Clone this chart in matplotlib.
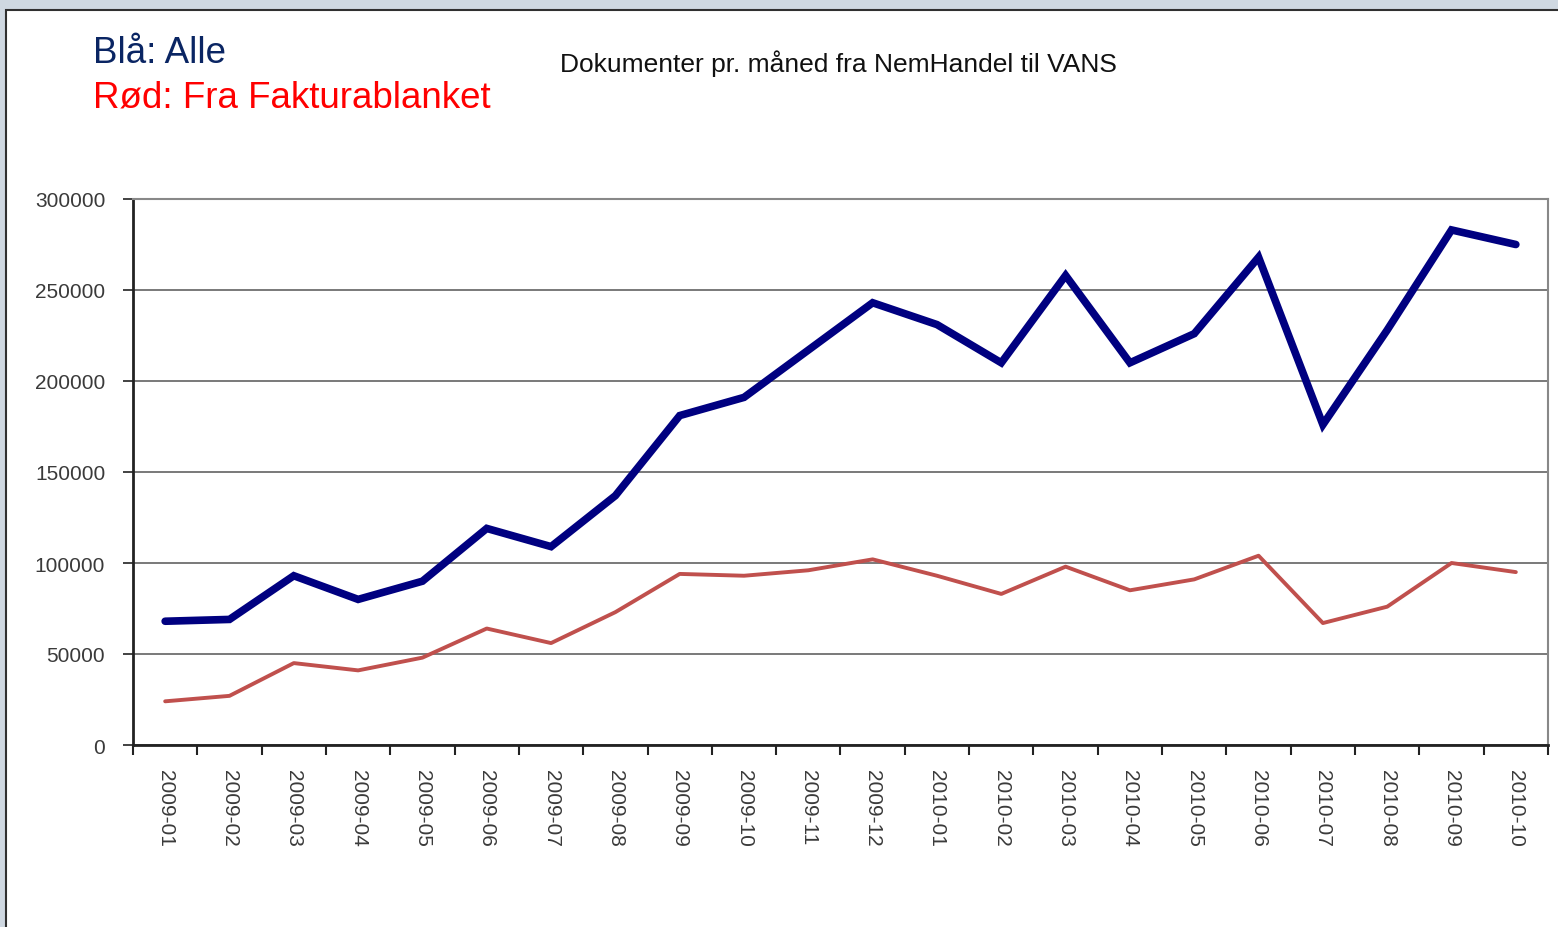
import matplotlib
matplotlib.use("Agg")
import matplotlib.pyplot as plt
from matplotlib.patches import Rectangle
from matplotlib.ticker import FixedLocator

months = ["2009-01", "2009-02", "2009-03", "2009-04", "2009-05", "2009-06",
          "2009-07", "2009-08", "2009-09", "2009-10", "2009-11", "2009-12",
          "2010-01", "2010-02", "2010-03", "2010-04", "2010-05", "2010-06",
          "2010-07", "2010-08", "2010-09", "2010-10"]
alle = [68000, 69000, 93000, 80000, 90000, 119000, 109000, 137000, 181000,
        191000, 217000, 243000, 231000, 210000, 258000, 210000, 226000,
        268000, 176000, 228000, 283000, 275000]
faktura = [24000, 27000, 45000, 41000, 48000, 64000, 56000, 73000, 94000,
           93000, 96000, 102000, 93000, 83000, 98000, 85000, 91000, 104000,
           67000, 76000, 100000, 95000]
yticks = [0, 50000, 100000, 150000, 200000, 250000, 300000]

plt.rcParams['font.family'] = ['Liberation Sans', 'DejaVu Sans']

W, H = 1558, 928
fig = plt.figure(figsize=(W / 100, H / 100), dpi=100)
fig.patch.set_facecolor('#cfd8e1')
fig.patches.append(Rectangle((6 / W, -0.01), 1.0, 1 - 11 / H + 0.01,
                             transform=fig.transFigure, facecolor='white',
                             edgecolor='#303030', linewidth=1.5, zorder=-10))

ax = fig.add_axes([133 / W, 1 - 746 / H, (1548 - 133) / W, (746 - 200) / H])
ax.set_zorder(5)
ax.set_facecolor('white')

x = list(range(len(months)))
ax.plot(x, alle, color='#000080', linewidth=5.5, solid_capstyle='round',
        solid_joinstyle='miter', zorder=3)
ax.plot(x, faktura, color='#c0504d', linewidth=2.8, solid_capstyle='round',
        zorder=3)

ax.set_xlim(-0.5, len(months) - 0.5)
ax.set_ylim(0, 300000)
ax.set_yticks(yticks)
ax.set_yticklabels([str(v) for v in yticks])
ax.yaxis.grid(True, color='#555555', linewidth=1.1)
ax.set_axisbelow(True)

ax.xaxis.set_major_locator(FixedLocator([i - 0.5 for i in range(len(months) + 1)]))
ax.xaxis.set_major_formatter(plt.NullFormatter())
ax.xaxis.set_minor_locator(FixedLocator(x))
ax.set_xticklabels(months, minor=True, rotation=270, fontsize=15, color='#3a3a3a')
ax.tick_params(axis='x', which='minor', length=0, pad=17)
ax.tick_params(axis='x', which='major', length=7, width=1.5, color='#222222')
ax.tick_params(axis='y', length=7, width=1.2, color='#222222', labelsize=15,
               labelcolor='#3a3a3a', pad=13)

for s in ['left', 'bottom']:
    ax.spines[s].set_color('#222222')
    ax.spines[s].set_linewidth(2)
for s in ['top', 'right']:
    ax.spines[s].set_color('#888888')
    ax.spines[s].set_linewidth(1.5)

fig.text(838 / W, 1 - 64 / H, "Dokumenter pr. måned fra NemHandel til VANS",
         ha='center', va='center', fontsize=19, color='#111111')
fig.text(93 / W, 1 - 63 / H, "Blå: Alle", ha='left', va='baseline',
         fontsize=26.5, color='#0a2563')
fig.text(93 / W, 1 - 108 / H, "Rød: Fra Fakturablanket", ha='left',
         va='baseline', fontsize=26.5, color='#ff0000')

fig.savefig("out.png", dpi=100, facecolor=fig.get_facecolor())
